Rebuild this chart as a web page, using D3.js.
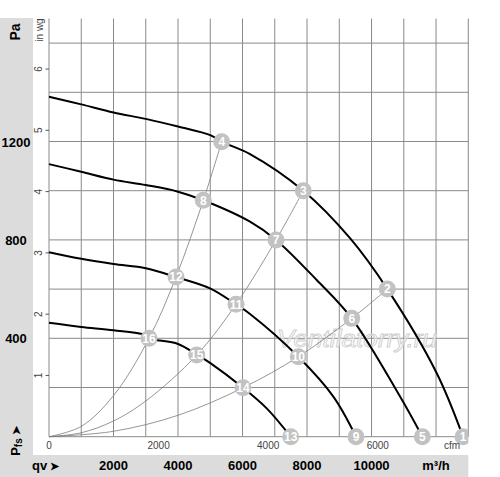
<!DOCTYPE html>
<html><head><meta charset="utf-8">
<script src="https://cdn.jsdelivr.net/npm/d3@7"></script>
<style>body{margin:0;background:#fff}svg{display:block;font-family:"Liberation Sans",Arial,sans-serif}</style>
</head><body>
<svg id="c" width="500" height="477"></svg>
<script>
// ---- data (m³/h, Pa) ----
const fanCurve1 = [[0,1382],[1000,1351],[2000,1318],[3000,1292],[4000,1261],[5000,1226],[5355,1199],[6232,1149],[7885,1000],[9333,807],[10490,600],[12022,258],[12837,0]];
const fanCurve2 = [[0,1108],[1000,1077],[2000,1045],[3000,1023],[4000,996],[4785,961],[6232,874],[7039,800],[8300,637],[9386,481],[10884,163],[11575,0]];
const fanCurve3 = [[0,750],[1000,723],[2000,702],[3000,685],[3938,649],[4992,603],[5798,538],[6232,499],[7730,325],[8816,163],[9519,0]];
const fanCurve4 = [[0,463],[1000,446],[2000,433],[3000,413],[3101,400],[4000,377],[4580,334],[4992,300],[6016,199],[6750,115],[7494,0]];
const systemA = [[0,0],[1000,42],[2000,167],[3101,400],[3938,649],[4785,961],[5355,1199]];
const systemB = [[0,0],[1000,16],[2000,64],[3000,145],[4580,332],[5798,538],[7039,800],[7885,1000]];
const systemC = [[0,0],[2000,22],[4000,87],[6016,199],[7730,325],[9386,481],[10490,600]];
const markerLabels = ["1","2","3","4","5","6","7","8","9","10","11","12","13","14","15","16"];
const markerPoints = [[12837,0],[10490,600],[7885,1000],[5355,1199],[11575,0],[9386,481],[7039,800],[4785,961],[9519,0],[7730,325],[5798,538],[3938,649],[7494,0],[6016,199],[4580,332],[3101,400]];
const paTicks = [400,800,1200];
const m3hTicks = [2000,4000,6000,8000,10000];
const cfmTicks = [0,2000,4000,6000];
const inwgTicks = [1,2,3,4,5,6];
const PA_PER_INWG = 249.09, M3H_PER_CFM = 1.699;

const svg = d3.select("#c");
const x = d3.scaleLinear().domain([0,13000]).range([49,468.3]);
const y = d3.scaleLinear().domain([0,1700]).range([436.7,18.5]);

// gray bands
svg.append("rect").attr("x",0).attr("y",18).attr("width",33).attr("height",459).attr("fill","#dcdcdc");
svg.append("rect").attr("x",0).attr("y",455).attr("width",468.3).attr("height",22).attr("fill","#dcdcdc");

// grid
const grid = svg.append("g").attr("stroke","#8a8a8a").attr("stroke-width",1);
grid.selectAll("line.v").data(d3.range(0,13001,1000)).join("line")
  .attr("x1",d=>x(d)).attr("x2",d=>x(d)).attr("y1",y(1700)).attr("y2",y(0));
grid.selectAll("line.h").data(d3.range(0,1601,200)).join("line")
  .attr("x1",x(0)).attr("x2",x(13000)).attr("y1",d=>y(d)).attr("y2",d=>y(d));

// clip (right edge only; markers may hang below the baseline)
svg.append("clipPath").attr("id","clip").append("rect")
  .attr("x",x(0)-10).attr("y",y(1700)).attr("width",x(13000)-x(0)+10).attr("height",455-y(1700));
const plot = svg.append("g").attr("clip-path","url(#clip)");

// watermark
plot.append("text").attr("x",277).attr("y",347)
  .attr("font-size",24).attr("font-style","italic").attr("textLength",160).attr("lengthAdjust","spacingAndGlyphs")
  .attr("fill","#fff").attr("fill-opacity",0.55).attr("stroke","#cfcfcf").attr("stroke-width",0.9)
  .text("Ventilatorry.ru");

const line = d3.line().x(d=>x(d[0])).y(d=>y(d[1])).curve(d3.curveCatmullRom.alpha(0.5));
[systemA,systemB,systemC].forEach(s=>{
  plot.append("path").attr("d",line(s)).attr("fill","none").attr("stroke","#7a7a7a").attr("stroke-width",0.8);
});
[fanCurve1,fanCurve2,fanCurve3,fanCurve4].forEach(s=>{
  plot.append("path").attr("d",line(s)).attr("fill","none").attr("stroke","#000").attr("stroke-width",2);
});

// markers
const mk = plot.selectAll("g.m").data(markerPoints).join("g")
  .attr("transform",d=>`translate(${x(d[0])},${y(d[1])})`);
mk.append("circle").attr("r",8.5).attr("fill","#c2c2c2");
mk.append("text").attr("text-anchor","middle").attr("dy","0.36em").attr("font-size",12).attr("font-weight","bold")
  .attr("fill","#fff").text((d,i)=>markerLabels[i]);

// in wg axis
const inwgY = v => y(v*PA_PER_INWG);
svg.append("g").selectAll("line").data(inwgTicks).join("line")
  .attr("x1",45.5).attr("x2",49).attr("y1",inwgY).attr("y2",inwgY).attr("stroke","#555");
svg.append("g").selectAll("text").data(inwgTicks).join("text")
  .attr("transform",d=>`translate(42,${inwgY(d)}) rotate(-90)`).attr("text-anchor","middle")
  .attr("font-size",10).attr("fill","#444").text(d=>d);
svg.append("text").attr("transform","translate(43,30) rotate(-90)").attr("text-anchor","middle")
  .attr("font-size",10).attr("fill","#444").text("in wg");

// Pa axis
svg.append("g").selectAll("text").data(paTicks).join("text")
  .attr("x",16).attr("y",d=>y(d)+5).attr("text-anchor","middle").attr("font-size",13).attr("font-weight","bold").text(d=>d);
svg.append("text").attr("transform","translate(20,32) rotate(-90)").attr("text-anchor","middle")
  .attr("font-size",14).attr("font-weight","bold").text("Pa");
const pfs = svg.append("text").attr("transform","translate(20,441) rotate(-90)").attr("text-anchor","middle")
  .attr("font-size",13).attr("font-weight","bold");
pfs.append("tspan").text("P");
pfs.append("tspan").attr("font-size",10).attr("dy",2).text("fs");
pfs.append("tspan").attr("dy",-2).attr("font-size",11).text(" \u27A4");

// cfm axis
svg.append("g").selectAll("text").data(cfmTicks).join("text")
  .attr("x",d=>x(d*M3H_PER_CFM)).attr("y",449).attr("text-anchor","middle").attr("font-size",10).attr("fill","#444").text(d=>d);
svg.append("text").attr("x",452).attr("y",449).attr("text-anchor","middle").attr("font-size",10).attr("fill","#444").text("cfm");

// m³/h axis
svg.append("g").selectAll("text").data(m3hTicks).join("text")
  .attr("x",d=>x(d)).attr("y",470).attr("text-anchor","middle").attr("font-size",13).attr("font-weight","bold").text(d=>d);
svg.append("text").attr("x",x(12000)).attr("y",470).attr("text-anchor","middle").attr("font-size",13).attr("font-weight","bold").text("m³/h");
const qv = svg.append("text").attr("x",32).attr("y",470).attr("font-size",13).attr("font-weight","bold");
qv.append("tspan").text("qv");
qv.append("tspan").attr("font-size",11).text("  \u27A4");
</script>
</body></html>
